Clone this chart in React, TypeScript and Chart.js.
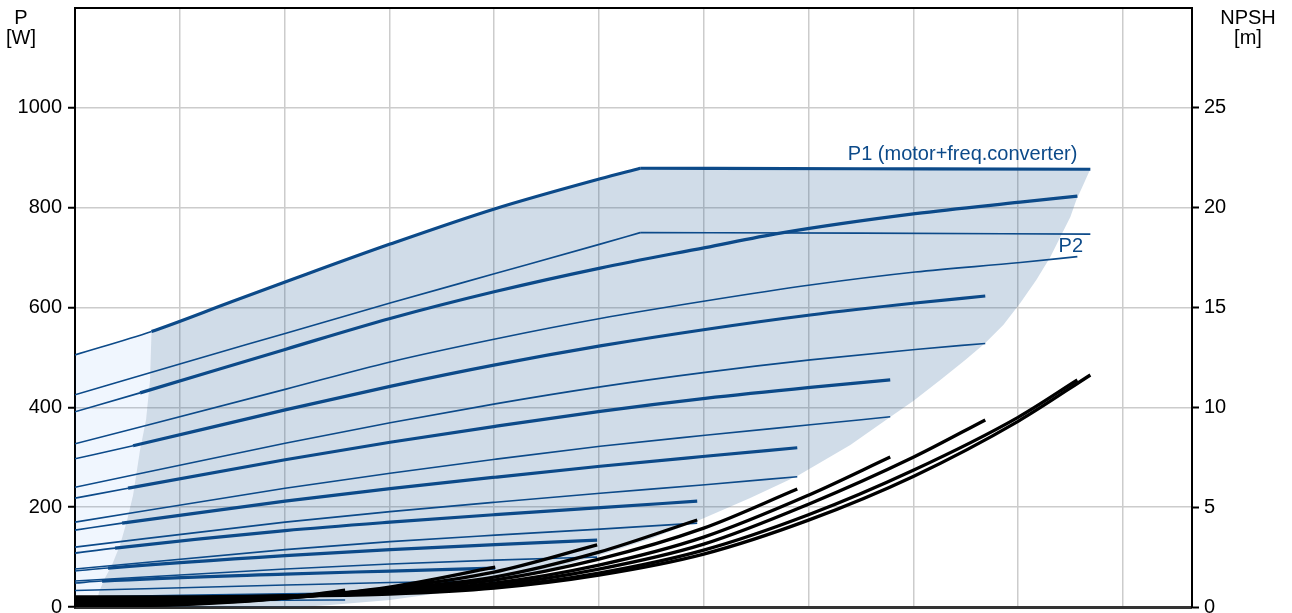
import React, { useEffect, useRef } from 'react';
import { Chart, registerables } from 'chart.js';

Chart.register(...registerables);

type Pt = [number, number];

// ---------- axes ----------
// x: flow in grid units (one vertical grid line per unit, no labels in the source)
const X_MIN = 0;
const X_MAX = 10.66;
const X_STEP = 1;
const P_MIN = 0;
const P_MAX = 1200;
const P_STEP = 200;
const NPSH_MIN = 0;
const NPSH_MAX = 30;
const NPSH_STEP = 5;
const P_TITLE = ['P', '[W]'];
const NPSH_TITLE = ['NPSH', '[m]'];

// ---------- labels ----------
const P1_LABEL = 'P1 (motor+freq.converter)';
const P1_LABEL_AT: Pt = [9.566, 896];
const P2_LABEL = 'P2';
const P2_LABEL_AT: Pt = [9.62, 711];

// ---------- P1 curves [x, W]  (first segment = thin extension) ----------
const P1_S1: Pt[] = [[0, 505], [0.73, 552], [1.5, 612], [2.005, 651], [3.007, 727], [4.01, 798], [5.012, 858], [5.394, 879]];
const P1_S1_LIMIT: Pt[] = [[5.394, 879], [7.5, 878], [9.69, 877]];
const P1_S2: Pt[] = [[0, 391], [0.621, 429], [2.005, 516], [3.007, 578], [4.01, 632], [5.012, 679], [6.014, 720], [6.73, 749], [8.019, 788], [9.021, 811], [9.566, 823]];
const P1_S3: Pt[] = [[0, 297], [0.554, 323], [2.005, 395], [3.007, 442], [4.01, 485], [5.012, 523], [6.014, 556], [7.017, 585], [8.019, 609], [8.687, 623]];
const P1_S4: Pt[] = [[0, 218], [0.506, 238], [2.005, 295], [3.007, 330], [4.01, 362], [5.012, 392], [6.014, 418], [7.017, 440], [7.78, 455]];
const P1_S5: Pt[] = [[0, 154], [0.449, 168], [2.005, 212], [3.007, 237], [4.01, 260], [5.012, 282], [6.014, 302], [6.893, 319]];
const P1_S6: Pt[] = [[0, 108], [0.382, 118], [2.005, 153], [3.007, 170], [4.01, 185], [5.012, 199], [5.938, 212]];
const P1_S7: Pt[] = [[0, 72], [0.315, 78], [2.005, 103], [3.007, 115], [4.01, 125], [4.983, 134]];
const P1_S8: Pt[] = [[0, 48], [0.258, 52], [2.005, 66], [3.007, 72], [4.01, 78]];
const P1_S9: Pt[] = [[0, 18], [0.2, 19], [1.0, 22], [2.005, 25], [2.578, 26]];

// ---------- P2 curves [x, W] ----------
const P2_S1: Pt[] = [[0, 425], [1.0, 487], [2.005, 548], [3.007, 609], [4.01, 668], [5.012, 727], [5.394, 750]];
const P2_S1_LIMIT: Pt[] = [[5.394, 750], [7.5, 749], [9.69, 747]];
const P2_S2: Pt[] = [[0, 327], [2.005, 436], [3.007, 491], [4.01, 537], [5.012, 578], [6.014, 613], [7.017, 645], [8.019, 671], [9.021, 690], [9.566, 702]];
const P2_S3: Pt[] = [[0, 240], [2.005, 328], [3.007, 369], [4.01, 407], [5.012, 441], [6.014, 470], [7.017, 495], [8.019, 516], [8.687, 528]];
const P2_S4: Pt[] = [[0, 170], [2.005, 238], [3.007, 268], [4.01, 296], [5.012, 322], [6.014, 344], [7.017, 365], [7.78, 381]];
const P2_S5: Pt[] = [[0, 120], [2.005, 170], [3.007, 191], [4.01, 210], [5.012, 228], [6.014, 245], [6.893, 261]];
const P2_S6: Pt[] = [[0, 76], [2.005, 115], [3.007, 131], [4.01, 144], [5.012, 156], [5.938, 168]];
const P2_S7: Pt[] = [[0, 52], [2.005, 76], [3.007, 86], [4.01, 94], [4.983, 100]];
const P2_S8: Pt[] = [[0, 33], [2.005, 44], [3.007, 49], [4.01, 52]];
const P2_S9: Pt[] = [[0, 10], [1.0, 12], [2.005, 13.5], [2.578, 14]];

// ---------- NPSH curves [x, m] ----------
const NPSH_S1: Pt[] = [[0, 0.5], [1, 0.5], [2, 0.55], [3, 0.65], [4, 0.95], [5, 1.6], [6, 2.65], [7, 4.35], [8, 6.54], [9, 9.3], [9.69, 11.62]];
const NPSH_S2: Pt[] = [[0, 0.47], [1, 0.47], [2, 0.55], [3, 0.7], [4, 1.0], [5, 1.7], [6, 2.85], [7, 4.62], [8, 6.85], [9, 9.5], [9.566, 11.37]];
const NPSH_S3: Pt[] = [[0, 0.4], [1, 0.42], [2, 0.55], [3, 0.75], [4, 1.1], [5, 1.9], [6, 3.15], [7, 5.15], [8, 7.5], [8.687, 9.37]];
const NPSH_S4: Pt[] = [[0, 0.33], [1, 0.35], [2, 0.5], [3, 0.8], [4, 1.2], [5, 2.1], [6, 3.5], [7, 5.6], [7.78, 7.51]];
const NPSH_S5: Pt[] = [[0, 0.27], [1, 0.3], [2, 0.5], [3, 0.85], [4, 1.35], [5, 2.4], [6, 3.95], [6.893, 5.91]];
const NPSH_S6: Pt[] = [[0, 0.2], [1, 0.25], [2, 0.5], [3, 0.9], [4, 1.5], [5, 2.75], [5.938, 4.36]];
const NPSH_S7: Pt[] = [[0, 0.14], [1, 0.2], [2, 0.45], [3, 0.95], [4, 1.75], [4.983, 3.11]];
const NPSH_S8: Pt[] = [[0, 0.09], [1, 0.15], [2, 0.45], [3, 1.0], [4.01, 2.0]];
const NPSH_S9: Pt[] = [[0, 0.05], [1, 0.12], [2, 0.45], [2.578, 0.85]];

// ---------- operating-range outlines [x, W] ----------
const LEFT_EDGE: Pt[] = [[0.73, 552], [0.716, 455], [0.678, 375], [0.621, 315], [0.554, 224], [0.497, 174], [0.43, 124], [0.353, 84], [0.286, 58], [0.229, 30], [0.2, 0]];
const RIGHT_EDGE: Pt[] = [
  [9.69, 877.6], [9.613, 841.5], [9.556, 815.5], [9.499, 781.4], [9.403, 741.3], [9.308, 701.3], [9.174, 655.2],
  [9.021, 609.1], [8.859, 565.0], [8.687, 528.9], [8.496, 494.9], [8.258, 454.8], [8.0, 412.7], [7.78, 380.7],
  [7.399, 324.6], [6.893, 262.5], [6.444, 218.4], [5.938, 172.3], [5.489, 136.2], [4.983, 102.2], [4.535, 76.1],
  [4.01, 50.1], [3.484, 28.1], [3.007, 14.0], [2.434, 4.0], [2.148, 0],
];
const LEFT_AXIS_EDGE: Pt[] = [[0, 0], [0, 505]];

// ---------- styles ----------
const BLUE = '#0c4a89';
const BLACK = '#000000';
const GRID = '#cccccc';
const SHADE = 'rgba(20,80,140,0.2)';
const SHADE_LIGHT = 'rgba(0,110,235,0.06)';
const FONT = '"Liberation Sans", Arial, Helvetica, sans-serif';
const FONT_SIZE = 20;

const toXY = (pts: Pt[]) => pts.map(([x, y]) => ({ x, y }));

const P1_CURVES = [P1_S1, P1_S2, P1_S3, P1_S4, P1_S5, P1_S6, P1_S7, P1_S8, P1_S9];
const P1_LIMITS = [P1_S1_LIMIT];
const P2_CURVES = [P2_S1, P2_S1_LIMIT, P2_S2, P2_S3, P2_S4, P2_S5, P2_S6, P2_S7, P2_S8, P2_S9];
const NPSH_CURVES = [NPSH_S1, NPSH_S2, NPSH_S3, NPSH_S4, NPSH_S5, NPSH_S6, NPSH_S7, NPSH_S8, NPSH_S9];

const textPlugin = {
  id: 'pumpTexts',
  afterDraw(chart: any) {
    const { ctx, chartArea: a, scales } = chart;
    ctx.save();
    ctx.strokeStyle = BLACK;
    ctx.lineWidth = 2;
    ctx.beginPath();
    ctx.moveTo(a.left - 1, a.top);
    ctx.lineTo(a.right + 1, a.top);
    ctx.stroke();

    ctx.font = `${FONT_SIZE}px ${FONT}`;
    ctx.fillStyle = BLACK;
    ctx.textAlign = 'center';
    ctx.textBaseline = 'alphabetic';
    ctx.fillText(P_TITLE[0], a.left - 54, a.top + 16);
    ctx.fillText(P_TITLE[1], a.left - 54, a.top + 36);
    ctx.fillText(NPSH_TITLE[0], a.right + 56, a.top + 16);
    ctx.fillText(NPSH_TITLE[1], a.right + 56, a.top + 36);

    ctx.fillStyle = BLUE;
    ctx.textAlign = 'right';
    ctx.fillText(P1_LABEL, scales.x.getPixelForValue(P1_LABEL_AT[0]), scales.y.getPixelForValue(P1_LABEL_AT[1]));
    ctx.fillText(P2_LABEL, scales.x.getPixelForValue(P2_LABEL_AT[0]), scales.y.getPixelForValue(P2_LABEL_AT[1]));
    ctx.restore();
  },
};

export default function App() {
  const ref = useRef<HTMLCanvasElement | null>(null);

  useEffect(() => {
    if (!ref.current) return;

    const datasets: any[] = [];

    NPSH_CURVES.forEach((c) =>
      datasets.push({
        data: toXY(c),
        yAxisID: 'y2',
        borderColor: BLACK,
        borderWidth: 3.3,
        pointRadius: 0,
        fill: false,
        cubicInterpolationMode: 'monotone',
        order: 0,
      })
    );
    P1_CURVES.forEach((c) =>
      datasets.push({
        data: toXY(c),
        yAxisID: 'y',
        borderColor: BLUE,
        borderWidth: 3.2,
        pointRadius: 0,
        fill: false,
        cubicInterpolationMode: 'monotone',
        segment: { borderWidth: (ctx: any) => (ctx.p0DataIndex === 0 ? 1.6 : 3.2) },
        order: 1,
      })
    );
    P1_LIMITS.forEach((c) =>
      datasets.push({
        data: toXY(c),
        yAxisID: 'y',
        borderColor: BLUE,
        borderWidth: 3.2,
        pointRadius: 0,
        fill: false,
        cubicInterpolationMode: 'monotone',
        order: 1,
      })
    );
    P2_CURVES.forEach((c) =>
      datasets.push({
        data: toXY(c),
        yAxisID: 'y',
        borderColor: BLUE,
        borderWidth: 1.6,
        pointRadius: 0,
        fill: false,
        cubicInterpolationMode: 'monotone',
        order: 2,
      })
    );

    const topEdge = [...P1_S1.slice(1), ...P1_S1_LIMIT.slice(1)];
    const darkPoly: Pt[] = [...[...LEFT_EDGE].reverse(), ...topEdge.slice(1), ...RIGHT_EDGE];
    const lightPoly: Pt[] = [...LEFT_AXIS_EDGE, ...LEFT_EDGE];

    datasets.push({
      data: toXY(darkPoly),
      yAxisID: 'y',
      borderColor: 'rgba(0,0,0,0)',
      borderWidth: 0,
      backgroundColor: SHADE,
      pointRadius: 0,
      tension: 0,
      fill: 'shape',
      order: 10,
    });
    datasets.push({
      data: toXY(lightPoly),
      yAxisID: 'y',
      borderColor: 'rgba(0,0,0,0)',
      borderWidth: 0,
      backgroundColor: SHADE_LIGHT,
      pointRadius: 0,
      tension: 0,
      fill: 'shape',
      order: 11,
    });

    const tickFont = { family: FONT, size: FONT_SIZE };

    const chart = new Chart(ref.current, {
      type: 'line',
      data: { datasets },
      plugins: [textPlugin],
      options: {
        animation: false,
        responsive: true,
        maintainAspectRatio: false,
        events: [],
        layout: { padding: { left: 0, right: 0, top: 8, bottom: 6 } },
        plugins: { legend: { display: false }, tooltip: { enabled: false } },
        scales: {
          x: {
            type: 'linear',
            min: X_MIN,
            max: X_MAX,
            ticks: { stepSize: X_STEP, display: false },
            grid: { color: GRID, lineWidth: 1.5, drawTicks: false },
            border: { color: '#333333', width: 3 },
            afterFit: (s: any) => {
              s.height = 0;
              s.paddingLeft = 0;
              s.paddingRight = 0;
            },
          },
          y: {
            type: 'linear',
            position: 'left',
            min: P_MIN,
            max: P_MAX,
            ticks: {
              stepSize: P_STEP,
              color: BLACK,
              font: tickFont,
              padding: 6,
              callback: (v: any) => (v >= P_MAX ? null : String(v)),
            },
            grid: { color: GRID, lineWidth: 1.5, tickColor: BLACK, tickLength: 7, tickWidth: 2 },
            border: { color: BLACK, width: 2 },
            afterFit: (s: any) => {
              s.width = 75;
              s.paddingTop = 0;
              s.paddingBottom = 0;
            },
          },
          y2: {
            type: 'linear',
            position: 'right',
            min: NPSH_MIN,
            max: NPSH_MAX,
            ticks: {
              stepSize: NPSH_STEP,
              color: BLACK,
              font: tickFont,
              padding: 5,
              callback: (v: any) => (v >= NPSH_MAX ? null : String(v)),
            },
            grid: { drawOnChartArea: false, tickColor: BLACK, tickLength: 7, tickWidth: 2 },
            border: { color: BLACK, width: 2 },
            afterFit: (s: any) => {
              s.width = 100;
              s.paddingTop = 0;
              s.paddingBottom = 0;
            },
          },
        },
      } as any,
    });

    return () => chart.destroy();
  }, []);

  return (
    <div style={{ position: 'fixed', left: 0, top: 0, width: 1292, height: 613, background: '#ffffff' }}>
      <canvas ref={ref} />
    </div>
  );
}
